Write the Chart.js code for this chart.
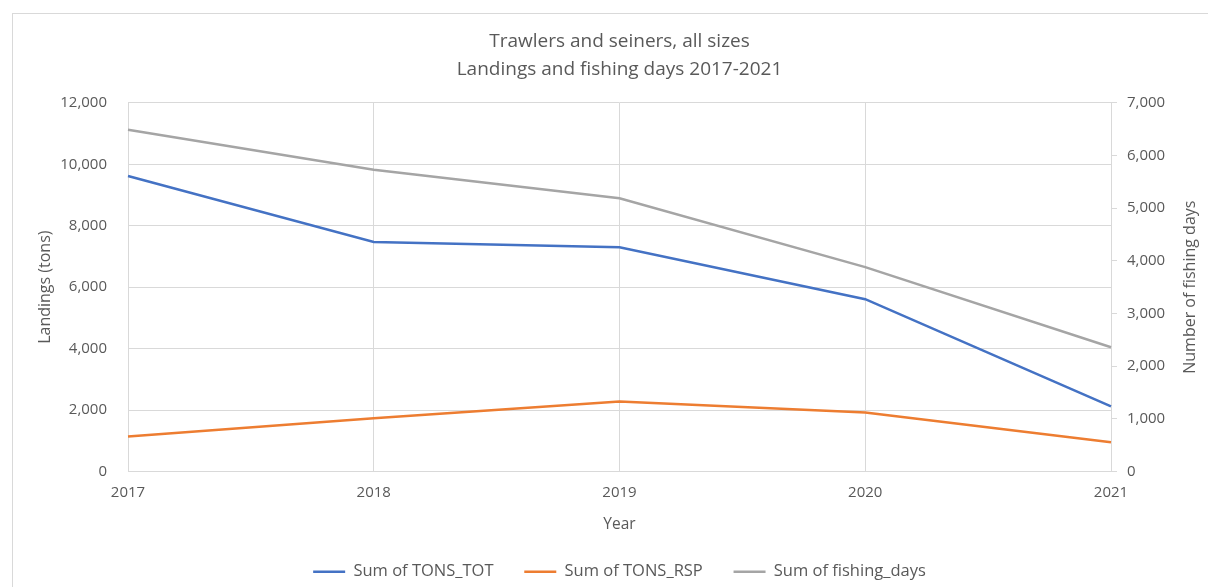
<!DOCTYPE html>
<html>
<head>
<meta charset="utf-8">
<script src="https://cdn.jsdelivr.net/npm/chart.js@4"></script>
<style>
  html, body { margin: 0; padding: 0; background: #fff; overflow: hidden; }
  #wrap { position: relative; width: 1208px; height: 587px; }
  #frame { position: absolute; left: 12px; top: 13px; width: 1200px; height: 600px;
           border-left: 1px solid #d9d9d9; border-top: 1px solid #d9d9d9; }
  #grafico { position: absolute; left: 0; top: 0; }
</style>
</head>
<body>
<div id="wrap">
  <div id="frame"></div>
  <canvas id="grafico" width="1208" height="587"></canvas>
</div>
<script>
// Datos
let anios = ['2017', '2018', '2019', '2020', '2021'];
let tonsTot = [9620, 7470, 7300, 5610, 2120];
let tonsRsp = [1140, 1730, 2280, 1920, 950];
let diasPesca = [6490, 5730, 5190, 3880, 2360];

let gris = '#595959';
let fuente = '"Open Sans", "Noto Sans", sans-serif';

// Titulo del eje derecho, leido de abajo hacia arriba como en Excel
let tituloDerecho = {
  id: 'tituloDerecho',
  afterDraw(chart) {
    let ctx = chart.ctx;
    let area = chart.chartArea;
    ctx.save();
    ctx.translate(1190, (area.top + area.bottom) / 2);
    ctx.rotate(-Math.PI / 2);
    ctx.font = '16px ' + fuente;
    ctx.fillStyle = gris;
    ctx.textAlign = 'center';
    ctx.textBaseline = 'middle';
    ctx.fillText('Number of fishing days', 0, 0);
    ctx.restore();
  }
};

let graf = document.getElementById('grafico').getContext('2d');
let chart = new Chart(graf, {
  type: 'line',
  data: {
    labels: anios,
    datasets: [{
      label: 'Sum of TONS_TOT',
      data: tonsTot,
      borderColor: '#4472C4',
      backgroundColor: '#4472C4',
      borderWidth: 2.5,
      pointRadius: 0,
      yAxisID: 'y'
    }, {
      label: 'Sum of TONS_RSP',
      data: tonsRsp,
      borderColor: '#ED7D31',
      backgroundColor: '#ED7D31',
      borderWidth: 2.5,
      pointRadius: 0,
      yAxisID: 'y'
    }, {
      label: 'Sum of fishing_days',
      data: diasPesca,
      borderColor: '#A5A5A5',
      backgroundColor: '#A5A5A5',
      borderWidth: 2.5,
      pointRadius: 0,
      yAxisID: 'y1'
    }]
  },
  options: {
    responsive: false,
    animation: false,
    layout: { padding: { top: 0, left: 0, right: 0, bottom: -3 } },
    scales: {
      x: {
        offset: false,
        grid: { color: '#d9d9d9', drawTicks: false },
        border: { color: '#d9d9d9' },
        ticks: { color: gris, font: { family: fuente, size: 15 }, padding: 12, maxRotation: 0 },
        title: { display: true, text: 'Year', color: gris, font: { family: fuente, size: 15.5 }, padding: { top: 0, bottom: 24 } },
        afterFit(scale) { scale.height = 86; }
      },
      y: {
        position: 'left',
        min: 0,
        max: 12000,
        ticks: { stepSize: 2000, color: gris, font: { family: fuente, size: 15 }, padding: 21 },
        grid: { color: '#d9d9d9', drawTicks: false },
        border: { display: false },
        title: { display: true, text: 'Landings (tons)', color: gris, font: { family: fuente, size: 16 }, padding: { top: 36, bottom: 0 } },
        afterFit(scale) { scale.width = 128; }
      },
      y1: {
        position: 'right',
        min: 0,
        max: 7000,
        ticks: { stepSize: 1000, color: gris, font: { family: fuente, size: 15 }, padding: 10 },
        grid: { drawOnChartArea: false, color: '#d9d9d9', tickLength: 6 },
        border: { color: '#d9d9d9' },
        afterFit(scale) { scale.width = 97; }
      }
    },
    plugins: {
      title: {
        display: true,
        fullSize: false,
        text: ['Trawlers and seiners, all sizes', 'Landings and fishing days 2017-2021'],
        color: gris,
        font: { family: fuente, size: 19, weight: 'normal', lineHeight: 1.47 },
        padding: { top: 28, bottom: 19 }
      },
      legend: {
        position: 'bottom',
        fullSize: false,
        labels: {
          color: gris,
          font: { family: fuente, size: 16.5 },
          usePointStyle: true,
          pointStyle: 'line',
          pointStyleWidth: 32,
          padding: 6,
          generateLabels(chart) {
            let items = Chart.defaults.plugins.legend.labels.generateLabels(chart);
            items.forEach(function(it, i) {
              if (i < items.length - 1) it.text = it.text + '\u2003\u2002';
            });
            return items;
          }
        }
      },
      tooltip: { enabled: false }
    }
  },
  plugins: [tituloDerecho]
});
</script>
</body>
</html>
